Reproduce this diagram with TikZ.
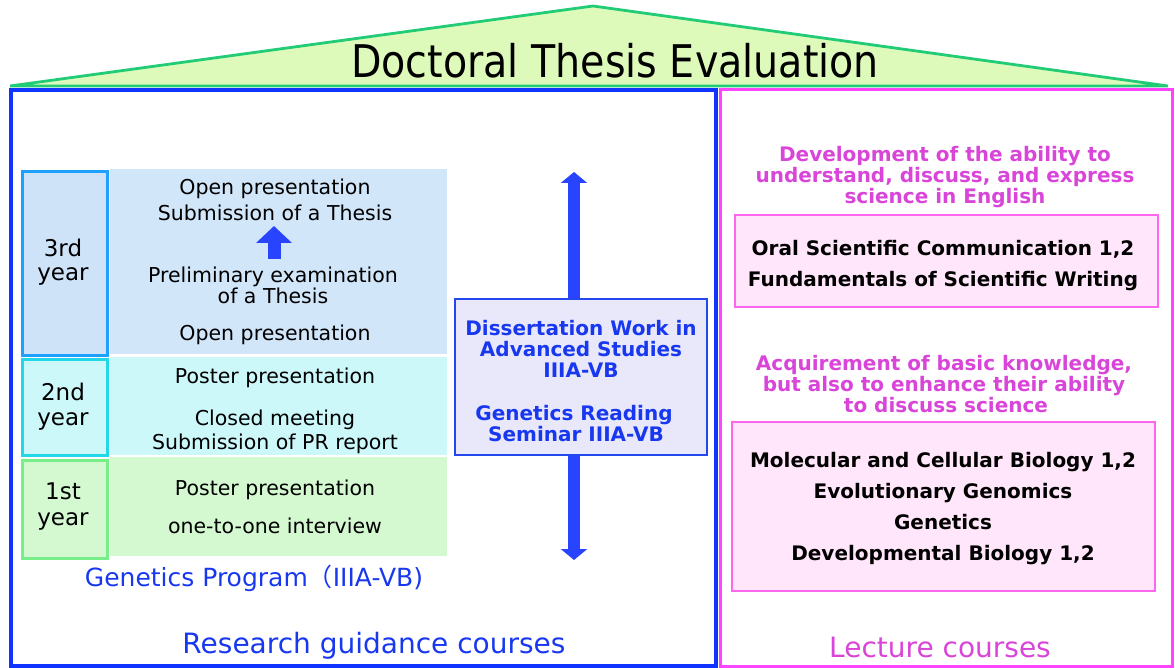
\documentclass[tikz,border=0pt]{standalone}
\usepackage{fontspec}
\setmainfont{DejaVu Sans}
\newfontfamily\cjk{Noto Sans CJK JP}
\usetikzlibrary{arrows.meta}
\definecolor{roofFill}{RGB}{221,250,186}
\definecolor{roofLine}{RGB}{34,204,119}
\definecolor{leftBlue}{RGB}{17,51,255}
\definecolor{rightPink}{RGB}{255,68,255}
\definecolor{yThreeLine}{RGB}{30,160,255}
\definecolor{yThreeFill}{RGB}{206,226,248}
\definecolor{cThreeFill}{RGB}{210,230,250}
\definecolor{yTwoLine}{RGB}{34,216,232}
\definecolor{yTwoFill}{RGB}{204,248,250}
\definecolor{yOneLine}{RGB}{119,238,136}
\definecolor{yOneFill}{RGB}{212,248,208}
\definecolor{arrowBlue}{RGB}{40,68,255}
\definecolor{dissFill}{RGB}{232,232,250}
\definecolor{dissLine}{RGB}{36,72,238}
\definecolor{blueText}{RGB}{24,56,240}
\definecolor{pinkText}{RGB}{216,69,216}
\definecolor{pinkFill}{RGB}{255,230,250}
\definecolor{pinkLine}{RGB}{255,102,238}
\tikzset{
  txt/.style={anchor=base, inner sep=0pt, font=\fontsize{20.5}{24}\selectfont},
  lbl/.style={anchor=base, inner sep=0pt, font=\fontsize{23}{26}\selectfont},
  btxt/.style={anchor=base, inner sep=0pt, font=\fontsize{20}{22}\selectfont\bfseries},
  bigtxt/.style={anchor=base, inner sep=0pt, font=\fontsize{28}{32}\selectfont},
  yearbox/.style={anchor=north west, inner sep=0pt, line width=3pt, minimum width=85pt},
  content/.style={anchor=north west, inner sep=0pt, minimum width=337pt},
  pinkbox/.style={fill=pinkFill, draw=pinkLine, line width=2pt, inner sep=0pt, minimum width=423pt},
  smallarrow/.style={-{Triangle[width=35pt,length=17pt]}, line width=13pt, arrowBlue},
  bigarrow/.style={-{Triangle[width=26pt,length=11pt]}, line width=12pt, arrowBlue}
}
\begin{document}
\begin{tikzpicture}[x=1pt,y=-1pt]
\useasboundingbox (0,0) rectangle (1175,668);
% roof
\filldraw[fill=roofFill, draw=roofLine, line width=2.8pt, line join=miter] (10,86) -- (593,6) -- (1168,86) -- cycle;
\node[anchor=base, inner sep=0pt, xscale=0.88, font=\fontsize{45}{50}\selectfont] (title) at (615,78) {Doctoral Thesis Evaluation};
% panels
\draw[rightPink, line width=3pt] (720,90) rectangle (1172,666);
\draw[leftBlue, line width=4.5pt] (11,90) rectangle (716,666);
% year rows
\node[yearbox, fill=yThreeFill, draw=yThreeLine, minimum height=184pt] (y3) at (20.5,170) {};
\node[content, fill=cThreeFill, minimum height=185pt] (c3) at (110,169) {};
\node[yearbox, fill=yTwoFill, draw=yTwoLine, minimum height=96pt] (y2) at (20.5,358) {};
\node[content, fill=yTwoFill, minimum height=98pt] (c2) at (110,357) {};
\node[yearbox, fill=yOneFill, draw=yOneLine, minimum height=98pt] (y1) at (20.5,459) {};
\node[content, fill=yOneFill, minimum height=99pt] (c1) at (110,457) {};
% year labels
\node[lbl] (l3a) at (63,257) {3rd};
\node[lbl] (l3b) at (63,281) {year};
\node[lbl] (l2a) at (63,400) {2nd};
\node[lbl] (l2b) at (63,425) {year};
\node[lbl] (l1a) at (63,499) {1st};
\node[lbl] (l1b) at (63,525) {year};
% 3rd year contents
\node[txt] (t3a) at (275,195) {Open presentation};
\node[txt] (t3b) at (275,221) {Submission of a Thesis};
\node[txt] (t3c) at (273,283) {Preliminary examination};
\node[txt] (t3d) at (273,304) {of a Thesis};
\node[txt] (t3e) at (275,340) {Open presentation};
\coordinate (sa1) at (274,259);
\coordinate (sa2) at (274,226);
\draw[smallarrow] (sa1) -- (sa2);
% 2nd year contents
\node[txt] (t2a) at (275,383) {Poster presentation};
\node[txt] (t2b) at (275,425) {Closed meeting};
\node[txt] (t2c) at (275,449) {Submission of PR report};
% 1st year contents
\node[txt] (t1a) at (275,495) {Poster presentation};
\node[txt] (t1b) at (275,533) {one-to-one interview};
\node[anchor=base, inner sep=0pt, font=\fontsize{25}{28}\selectfont, text=blueText] (prog) at (254,586) {Genetics Program{\cjk （}IIIA-VB)};
\node[bigtxt, text=blueText] (rgc) at (374,653) {Research guidance courses};
% dissertation box and arrows
\node[fill=dissFill, draw=dissLine, line width=2pt, minimum width=252pt, minimum height=155pt, inner sep=0pt] (diss) at (581,377) {};
\coordinate (topTip) at (574,172);
\coordinate (botTip) at (574,560);
\draw[bigarrow] (topTip |- diss.north) -- (topTip);
\draw[bigarrow] (botTip |- diss.south) -- (botTip);
\node[btxt, text=blueText] (d1) at (581,335) {Dissertation Work in};
\node[btxt, text=blueText] (d2) at (581,356) {Advanced Studies};
\node[btxt, text=blueText] (d3) at (581,377) {IIIA-VB};
\node[btxt, text=blueText] (d4) at (574,420) {Genetics Reading};
\node[btxt, text=blueText] (d5) at (576,441) {Seminar IIIA-VB};
% right panel
\node[btxt, text=pinkText] (h1a) at (945,162) {Development of the ability to};
\node[btxt, text=pinkText] (h1b) at (945,183) {understand, discuss, and express};
\node[btxt, text=pinkText] (h1c) at (945,204) {science in English};
\node[pinkbox, minimum height=92pt] (b1) at (946.5,261) {};
\node[btxt] (b1a) at (943,256) {Oral Scientific Communication 1,2};
\node[btxt] (b1b) at (943,287) {Fundamentals of Scientific Writing};
\node[btxt, text=pinkText] (h2a) at (944,370) {Acquirement of basic knowledge,};
\node[btxt, text=pinkText] (h2b) at (944,391) {but also to enhance their ability};
\node[btxt, text=pinkText] (h2c) at (946,412) {to discuss science};
\node[pinkbox, minimum height=169pt] (b2) at (943.5,506.5) {};
\node[btxt] (b2a) at (943,467) {Molecular and Cellular Biology 1,2};
\node[btxt] (b2b) at (943,498) {Evolutionary Genomics};
\node[btxt] (b2c) at (943,529) {Genetics};
\node[btxt] (b2d) at (943,560) {Developmental Biology 1,2};
\node[bigtxt, text=pinkText] (lec) at (940,657) {Lecture courses};
\end{tikzpicture}
\end{document}
